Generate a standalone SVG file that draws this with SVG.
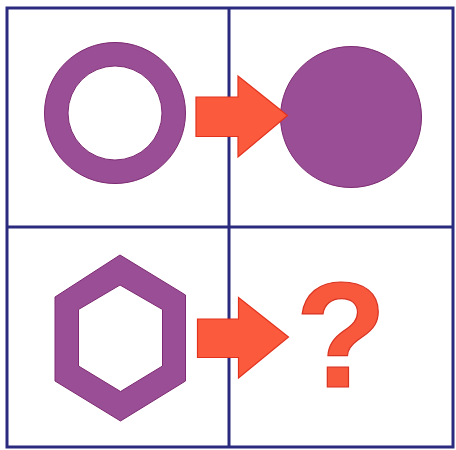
<svg xmlns="http://www.w3.org/2000/svg" width="456" height="450" viewBox="0 0 456 450">
<style>
.grid{fill:none;stroke:#2a2a7e;stroke-width:3}
.purple{fill:#9a4e95;stroke:#7d2a72;stroke-width:1;fill-rule:evenodd}
.arrow{fill:#fb5a3c;stroke:#e2321e;stroke-width:1.2}
.q{font-family:"Liberation Sans",Arial,sans-serif;font-weight:bold;font-size:150px;fill:#f8583c;stroke:#d83220;stroke-width:1.2}
</style>
<rect width="456" height="450" fill="#fff"/>
<g id="grid">
<rect class="grid" x="7" y="8" width="446" height="439"/>
<line class="grid" x1="229" y1="8" x2="229" y2="447"/>
<line class="grid" x1="7" y1="227" x2="453" y2="227"/>
</g>
<g id="ring">
<path class="purple" d="M185.5,113 A70.5,70.5 0 1 0 44.5,113 A70.5,70.5 0 1 0 185.5,113 Z M162,113 A47,47 0 1 1 68,113 A47,47 0 1 1 162,113 Z"/>
</g>
<g id="disc">
<circle class="purple" cx="351" cy="117" r="70.5"/>
</g>
<g id="hexagon">
<path class="purple" d="M120,255 L185.5,295 L185.5,381 L120.5,421 L55,381 L55,297 Z M120,285 L162.5,309.5 L162.5,366 L120.5,391.5 L78.5,366 L78.5,309.5 Z"/>
</g>
<g id="question">
<text class="q" x="341" y="387" text-anchor="middle">?</text>
</g>
<g id="connectors">
<path class="arrow" d="M196,97 L238,97 L238,76 L287.5,115.5 L238,157 L238,136.5 L196,136.5 Z"/>
<path class="arrow" d="M197.5,319 L238.5,319 L238.5,297.5 L288.5,337 L238.5,378 L238.5,357.5 L197.5,357.5 Z"/>
</g>
</svg>
